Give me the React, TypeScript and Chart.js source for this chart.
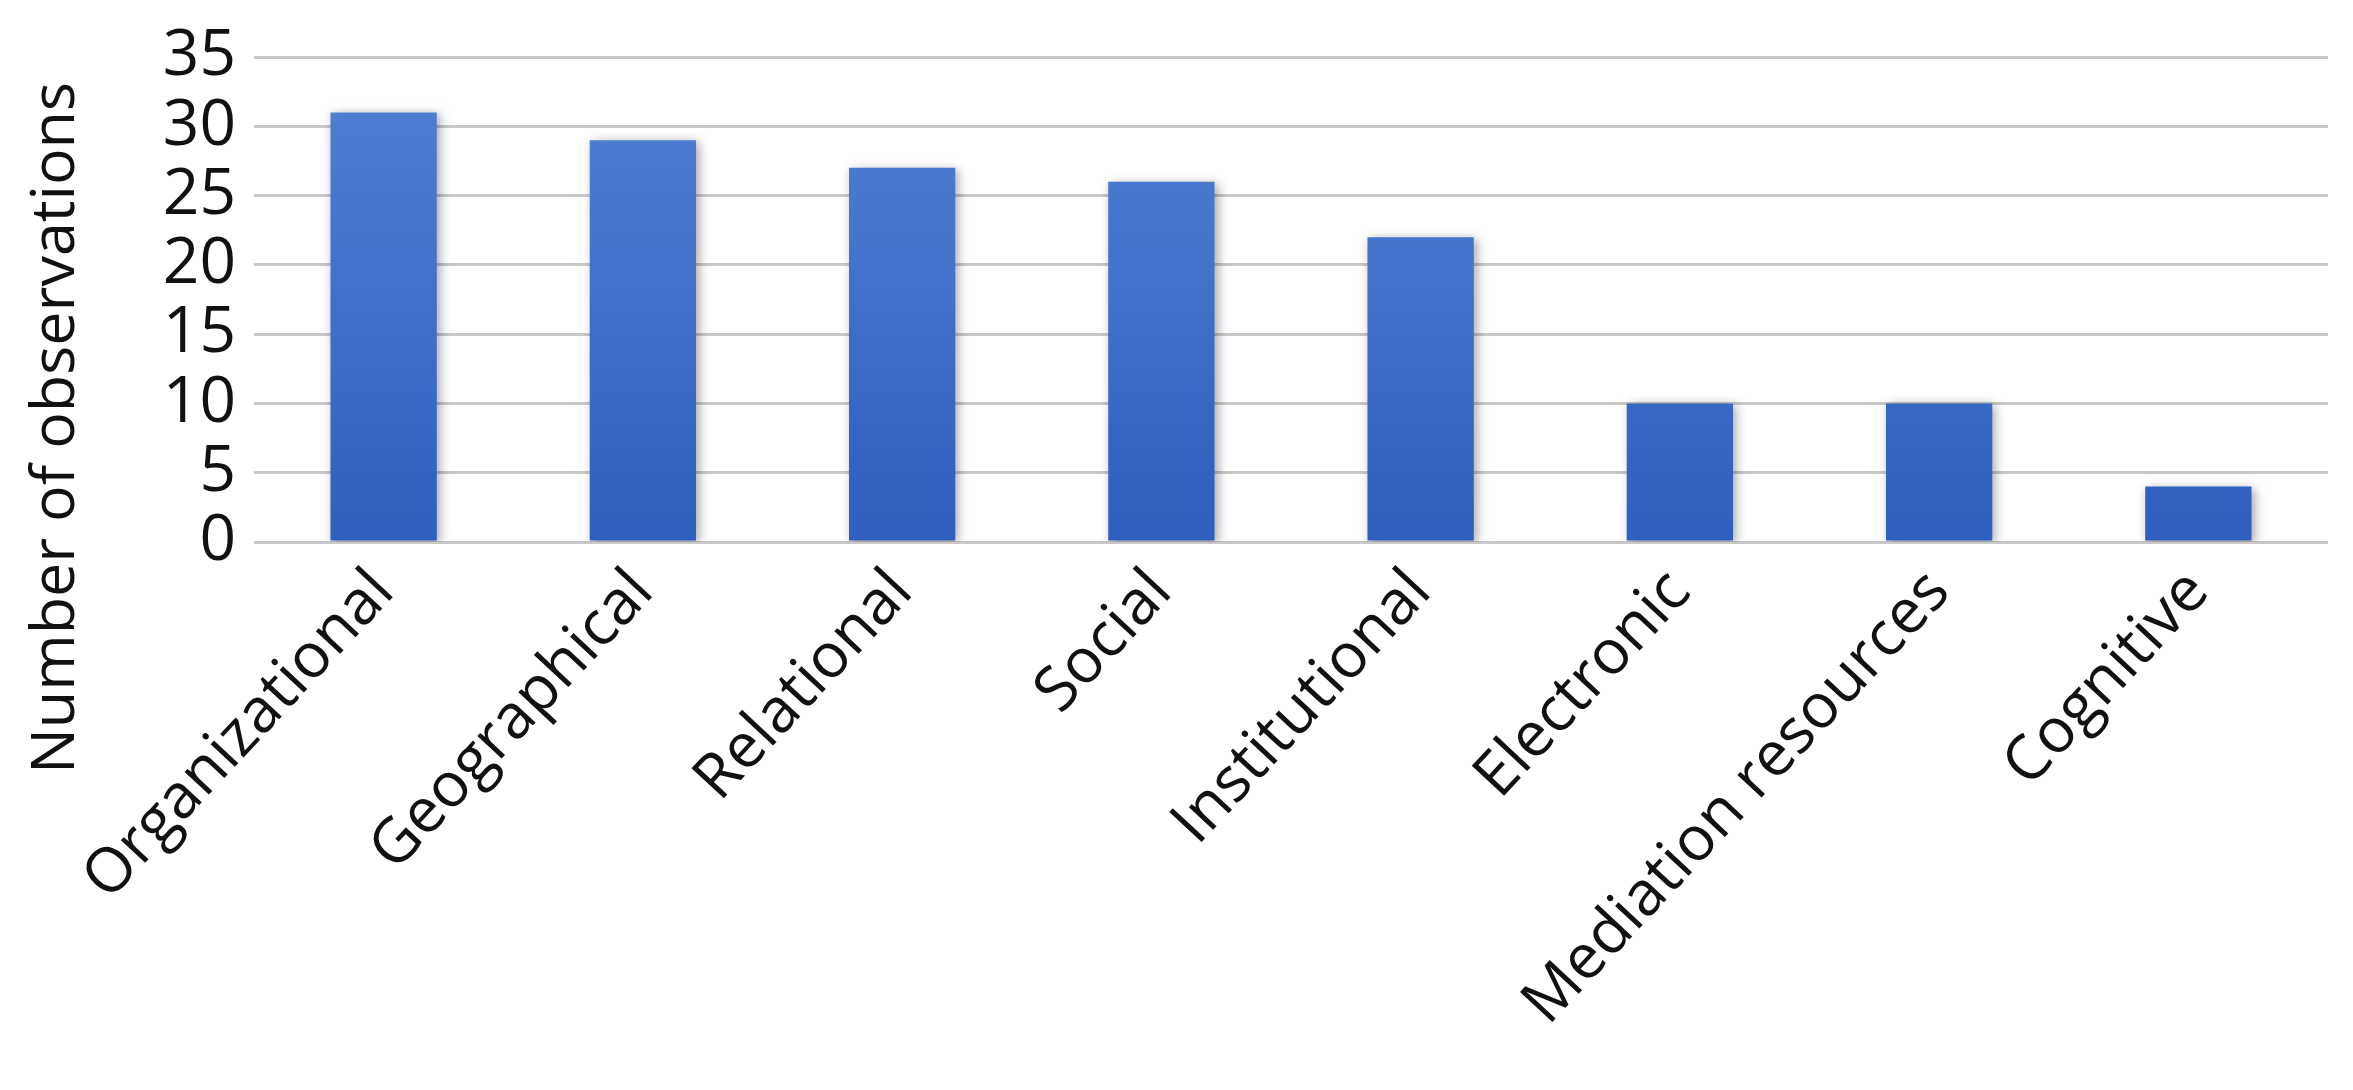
import React, { useEffect, useRef } from "react";
import { Chart, registerables } from "chart.js";

Chart.register(...registerables);

const categories = [
  "Organizational",
  "Geographical",
  "Relational",
  "Social",
  "Institutional",
  "Electronic",
  "Mediation resources",
  "Cognitive",
];
const observations = [31, 29, 27, 26, 22, 10, 10, 4];
const yAxisTitle = "Number of observations";
const yMin = 0;
const yMax = 35;
const yStep = 5;

const FONT = "'Open Sans', 'Noto Sans', sans-serif";

export default function App() {
  const ref = useRef<HTMLCanvasElement>(null);

  useEffect(() => {
    const canvas = ref.current;
    if (!canvas) return;

    const shadowPlugin = {
      id: "barShadow",
      beforeDatasetsDraw(chart: any) {
        const ctx = chart.ctx;
        ctx.save();
        ctx.shadowColor = "rgba(0,0,0,0.35)";
        ctx.shadowBlur = 10;
        ctx.shadowOffsetX = 3;
        ctx.shadowOffsetY = 2;
      },
      afterDatasetsDraw(chart: any) {
        chart.ctx.restore();
      },
    };

    const yTitlePlugin = {
      id: "yTitle",
      afterDraw(chart: any) {
        const ctx = chart.ctx;
        ctx.save();
        ctx.translate(57, 428);
        ctx.rotate(-Math.PI / 2);
        ctx.font = `500 61px ${FONT}`;
        ctx.fillStyle = "#111";
        ctx.textAlign = "center";
        ctx.textBaseline = "middle";
        ctx.fillText(yAxisTitle, 0, 0);
        ctx.restore();
      },
    };

    const chart = new Chart(canvas, {
      type: "bar",
      data: {
        labels: categories,
        datasets: [
          {
            data: observations,
            backgroundColor: (c: any) => {
              const area = c.chart.chartArea;
              if (!area) return "#3a6bc9";
              const g = c.chart.ctx.createLinearGradient(0, area.top, 0, area.bottom);
              g.addColorStop(0, "#5282d4");
              g.addColorStop(1, "#2e5ebf");
              return g;
            },
            borderWidth: 0,
            barPercentage: 0.41,
            categoryPercentage: 1,
          },
        ],
      },
      options: {
        responsive: false,
        animation: false,
        events: [],
        layout: { padding: { top: 57, right: 25, left: 0, bottom: 0 } },
        plugins: {
          legend: { display: false },
          tooltip: { enabled: false },
          title: { display: false },
        },
        scales: {
          x: {
            grid: { display: false, drawTicks: false },
            border: { display: false },
            ticks: {
              minRotation: 47,
              maxRotation: 47,
              padding: 14,
              color: "#111",
              font: { family: FONT, size: 62 },
              autoSkip: false,
            },
            afterFit: (scale: any) => {
              scale.height = 548;
            },
          },
          y: {
            min: yMin,
            max: yMax,
            grid: { color: "#c8c8c8", lineWidth: 3, drawTicks: false },
            border: { display: false },
            ticks: {
              stepSize: yStep,
              padding: 18,
              autoSkip: false,
              color: "#111",
              font: { family: FONT, size: 64 },
            },
            afterFit: (scale: any) => {
              scale.width = 254;
            },
          },
        },
      },
      plugins: [shadowPlugin, yTitlePlugin],
    });

    return () => chart.destroy();
  }, []);

  return (
    <canvas
      ref={ref}
      width={2353}
      height={1090}
      style={{ position: "fixed", left: 0, top: 0, display: "block", background: "#fff" }}
    />
  );
}
